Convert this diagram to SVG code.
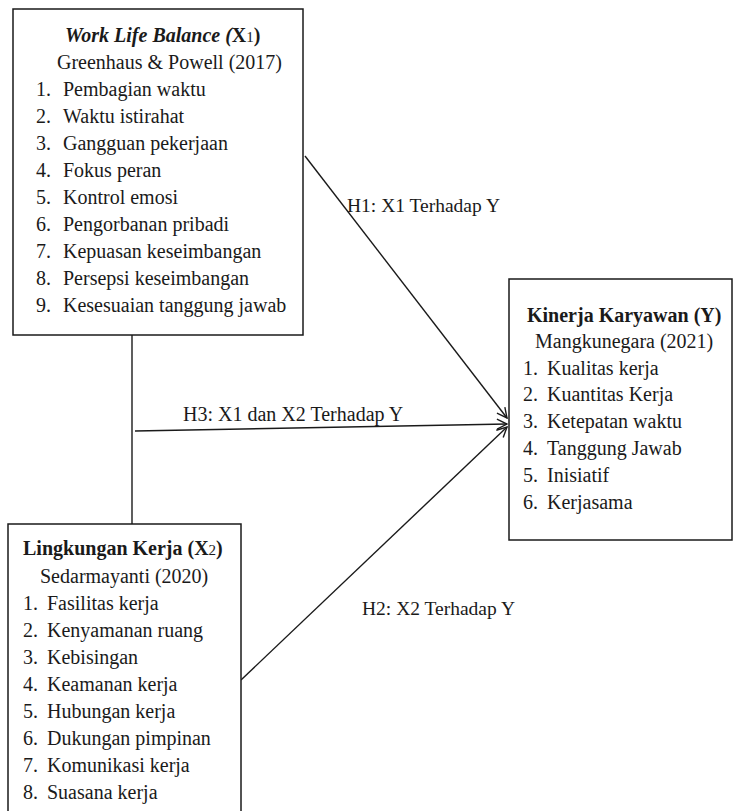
<svg xmlns="http://www.w3.org/2000/svg" width="734" height="811" viewBox="0 0 734 811">
<defs>
<marker id="arr" viewBox="0 0 12 12" refX="11" refY="6" markerWidth="12" markerHeight="12" markerUnits="userSpaceOnUse" orient="auto">
<path d="M1,1 L11,6 L1,11" fill="none" stroke="#1a1a1a" stroke-width="1.4"/>
</marker>
</defs>
<rect width="734" height="811" fill="#fff"/>
<g id="connectors" stroke="#1a1a1a" stroke-width="1.4" fill="none">
<line x1="132" y1="335" x2="132" y2="524"/>
<line x1="305" y1="156" x2="507" y2="418" marker-end="url(#arr)"/>
<line x1="135" y1="431" x2="507" y2="424" marker-end="url(#arr)"/>
<line x1="241" y1="680" x2="507" y2="427" marker-end="url(#arr)"/>
</g>
<g id="labels" fill="#1a1a1a">
<text x="347" y="212" font-family="'Liberation Serif', serif" font-size="19.5">H1: X1 Terhadap Y</text>
<text x="183" y="421" font-family="'Liberation Serif', serif" font-size="20">H3: X1 dan X2 Terhadap Y</text>
<text x="362" y="615" font-family="'Liberation Serif', serif" font-size="19.5">H2: X2 Terhadap Y</text>
</g>
<g id="x1" fill="#1a1a1a">
<rect x="13" y="9" width="290" height="326" fill="#fff" stroke="#1a1a1a" stroke-width="1.5"/>
<text x="65" y="42" font-family="'Liberation Serif', serif" font-size="20" font-weight="bold" font-style="italic">Work Life Balance (<tspan font-style="normal">X</tspan><tspan font-style="normal" font-weight="normal" font-size="15">1</tspan><tspan font-style="normal">)</tspan></text>
<text x="57" y="69" font-family="'Liberation Serif', serif" font-size="20">Greenhaus &amp; Powell (2017)</text>
<text x="36" y="96" font-family="'Liberation Serif', serif" font-size="20">1.</text><text x="63" y="96" font-family="'Liberation Serif', serif" font-size="20">Pembagian waktu</text>
<text x="36" y="123" font-family="'Liberation Serif', serif" font-size="20">2.</text><text x="63" y="123" font-family="'Liberation Serif', serif" font-size="20">Waktu istirahat</text>
<text x="36" y="150" font-family="'Liberation Serif', serif" font-size="20">3.</text><text x="63" y="150" font-family="'Liberation Serif', serif" font-size="20">Gangguan pekerjaan</text>
<text x="36" y="177" font-family="'Liberation Serif', serif" font-size="20">4.</text><text x="63" y="177" font-family="'Liberation Serif', serif" font-size="20">Fokus peran</text>
<text x="36" y="204" font-family="'Liberation Serif', serif" font-size="20">5.</text><text x="63" y="204" font-family="'Liberation Serif', serif" font-size="20">Kontrol emosi</text>
<text x="36" y="231" font-family="'Liberation Serif', serif" font-size="20">6.</text><text x="63" y="231" font-family="'Liberation Serif', serif" font-size="20">Pengorbanan pribadi</text>
<text x="36" y="258" font-family="'Liberation Serif', serif" font-size="20">7.</text><text x="63" y="258" font-family="'Liberation Serif', serif" font-size="20">Kepuasan keseimbangan</text>
<text x="36" y="285" font-family="'Liberation Serif', serif" font-size="20">8.</text><text x="63" y="285" font-family="'Liberation Serif', serif" font-size="20">Persepsi keseimbangan</text>
<text x="36" y="312" font-family="'Liberation Serif', serif" font-size="20">9.</text><text x="63" y="312" font-family="'Liberation Serif', serif" font-size="20">Kesesuaian tanggung jawab</text>
</g>
<g id="x2" fill="#1a1a1a">
<rect x="8" y="524" width="233" height="300" fill="#fff" stroke="#1a1a1a" stroke-width="1.5"/>
<text x="23" y="555" font-family="'Liberation Serif', serif" font-size="20" font-weight="bold">Lingkungan Kerja (X<tspan font-weight="normal" font-size="15">2</tspan>)</text>
<text x="40" y="583" font-family="'Liberation Serif', serif" font-size="20">Sedarmayanti (2020)</text>
<text x="23" y="610" font-family="'Liberation Serif', serif" font-size="20">1.</text><text x="47" y="610" font-family="'Liberation Serif', serif" font-size="20">Fasilitas kerja</text>
<text x="23" y="637" font-family="'Liberation Serif', serif" font-size="20">2.</text><text x="47" y="637" font-family="'Liberation Serif', serif" font-size="20">Kenyamanan ruang</text>
<text x="23" y="664" font-family="'Liberation Serif', serif" font-size="20">3.</text><text x="47" y="664" font-family="'Liberation Serif', serif" font-size="20">Kebisingan</text>
<text x="23" y="691" font-family="'Liberation Serif', serif" font-size="20">4.</text><text x="47" y="691" font-family="'Liberation Serif', serif" font-size="20">Keamanan kerja</text>
<text x="23" y="718" font-family="'Liberation Serif', serif" font-size="20">5.</text><text x="47" y="718" font-family="'Liberation Serif', serif" font-size="20">Hubungan kerja</text>
<text x="23" y="745" font-family="'Liberation Serif', serif" font-size="20">6.</text><text x="47" y="745" font-family="'Liberation Serif', serif" font-size="20">Dukungan pimpinan</text>
<text x="23" y="772" font-family="'Liberation Serif', serif" font-size="20">7.</text><text x="47" y="772" font-family="'Liberation Serif', serif" font-size="20">Komunikasi kerja</text>
<text x="23" y="799" font-family="'Liberation Serif', serif" font-size="20">8.</text><text x="47" y="799" font-family="'Liberation Serif', serif" font-size="20">Suasana kerja</text>
</g>
<g id="y" fill="#1a1a1a">
<rect x="509" y="279" width="223" height="261" fill="#fff" stroke="#1a1a1a" stroke-width="1.5"/>
<text x="527" y="322" font-family="'Liberation Serif', serif" font-size="20" font-weight="bold">Kinerja Karyawan (Y)</text>
<text x="535" y="348" font-family="'Liberation Serif', serif" font-size="20">Mangkunegara (2021)</text>
<text x="523" y="375" font-family="'Liberation Serif', serif" font-size="20">1.</text><text x="547" y="375" font-family="'Liberation Serif', serif" font-size="20">Kualitas kerja</text>
<text x="523" y="401" font-family="'Liberation Serif', serif" font-size="20">2.</text><text x="547" y="401" font-family="'Liberation Serif', serif" font-size="20">Kuantitas Kerja</text>
<text x="523" y="428" font-family="'Liberation Serif', serif" font-size="20">3.</text><text x="547" y="428" font-family="'Liberation Serif', serif" font-size="20">Ketepatan waktu</text>
<text x="523" y="455" font-family="'Liberation Serif', serif" font-size="20">4.</text><text x="547" y="455" font-family="'Liberation Serif', serif" font-size="20">Tanggung Jawab</text>
<text x="523" y="482" font-family="'Liberation Serif', serif" font-size="20">5.</text><text x="547" y="482" font-family="'Liberation Serif', serif" font-size="20">Inisiatif</text>
<text x="523" y="509" font-family="'Liberation Serif', serif" font-size="20">6.</text><text x="547" y="509" font-family="'Liberation Serif', serif" font-size="20">Kerjasama</text>
</g>
</svg>
